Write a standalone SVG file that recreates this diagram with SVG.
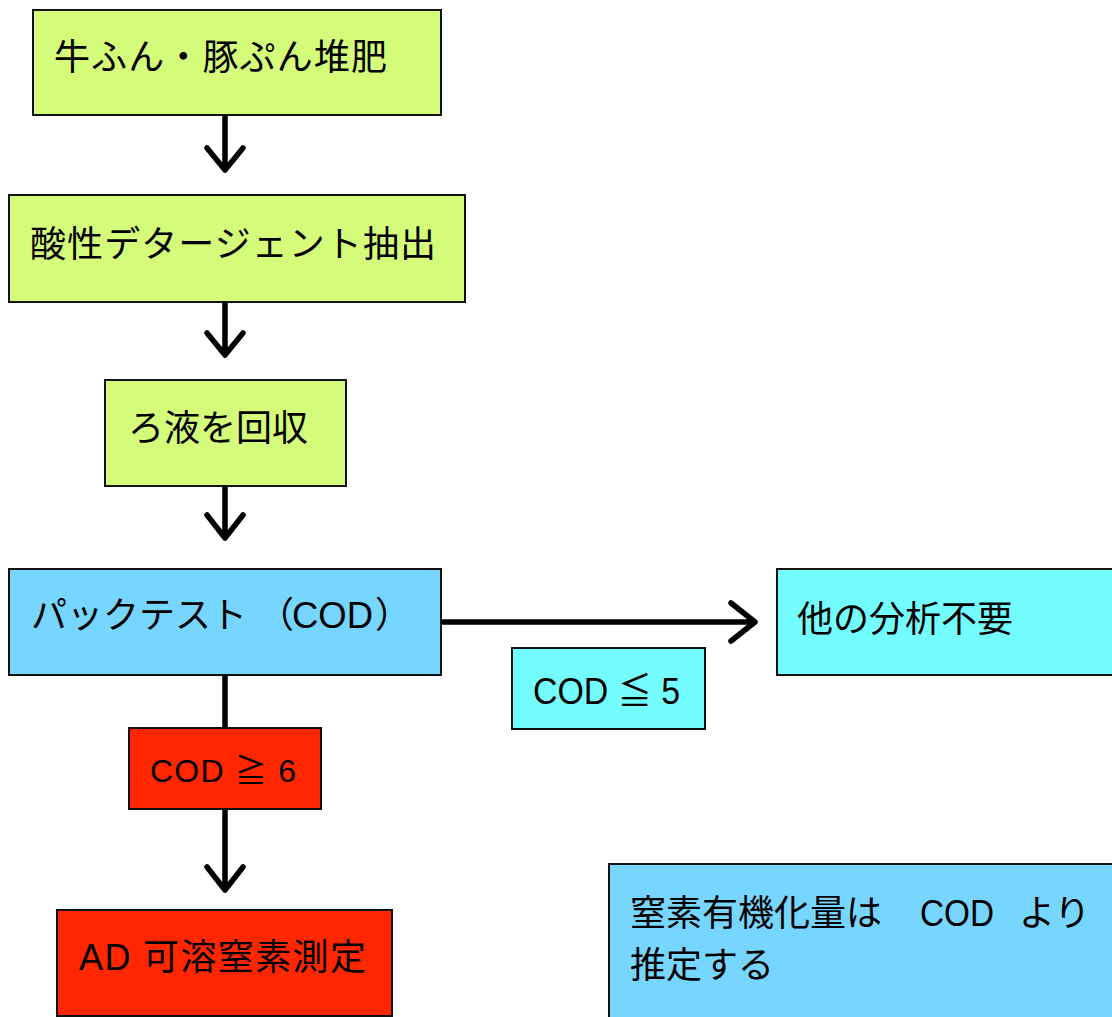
<svg xmlns="http://www.w3.org/2000/svg" width="1112" height="1017" viewBox="0 0 1112 1017">
<style>
.box{stroke:#111;stroke-width:2}
.g{fill:#D4FB79}
.sky{fill:#76D6FF}
.ice{fill:#73FDFF}
.red{fill:#FF2600}
.t{font-family:"Liberation Sans","Noto Sans CJK JP",sans-serif;font-size:36px;fill:#000}
.c{font-family:"Liberation Sans","Noto Sans CJK JP",sans-serif;font-size:32px;fill:#000}
.ln{fill:none;stroke:#000;stroke-width:5.5;stroke-linecap:round;stroke-linejoin:round}
</style>
<rect width="1112" height="1017" fill="#fff"/>
<g id="connectors">
<path class="ln" d="M225 116V169M207 148L225 170L243 148"/>
<path class="ln" d="M225 303V354M207 333L225 355L243 333"/>
<path class="ln" d="M225 487V537M207 515L225 538L243 515"/>
<path class="ln" d="M442 622H755M731 603L755 622L731 641"/>
<path class="ln" d="M225 676V728" style="stroke-linecap:butt"/>
<path class="ln" d="M225 810V889M207 867L225 890L243 867"/>
</g>
<g id="n1"><rect class="box g" x="33" y="10" width="408" height="105"/><text class="t" x="54" y="70" textLength="333" lengthAdjust="spacing">牛ふん・豚ぷん堆肥</text></g>
<g id="n2"><rect class="box g" x="9" y="195" width="456" height="107"/><text class="t" x="30" y="257" textLength="406" lengthAdjust="spacing">酸性デタージェント抽出</text></g>
<g id="n3"><rect class="box g" x="105" y="380" width="241" height="106"/><text class="t" x="128" y="441">ろ液を回収</text></g>
<g id="n4"><rect class="box sky" x="9" y="569" width="432" height="106"/><text class="t" x="31" y="628">パックテスト<tspan x="258">（</tspan><tspan x="292" textLength="81" lengthAdjust="spacingAndGlyphs">COD</tspan><tspan x="375">）</tspan></text></g>
<g id="n5"><rect class="box ice" x="777" y="569" width="345" height="106"/><text class="t" x="797" y="632">他の分析不要</text></g>
<g id="n6"><rect class="box ice" x="512" y="648" width="193" height="81"/><text class="t" x="533" y="704" textLength="147" lengthAdjust="spacingAndGlyphs">COD ≦ 5</text></g>
<g id="n7"><rect class="box red" x="129" y="728" width="192" height="81"/><text class="c" x="150" y="782" textLength="146" lengthAdjust="spacing">COD ≧ 6</text></g>
<g id="n8"><rect class="box red" x="57" y="910" width="335" height="106"/><text class="t" x="79" y="970" textLength="287" lengthAdjust="spacing">AD 可溶窒素測定</text></g>
<g id="n9"><rect class="box sky" x="609" y="864" width="520" height="170"/><text class="t" x="630" y="926">窒素有機化量は<tspan x="920" textLength="74" lengthAdjust="spacingAndGlyphs">COD</tspan><tspan x="1019">より</tspan></text><text class="t" x="630" y="978">推定する</text></g>
</svg>
